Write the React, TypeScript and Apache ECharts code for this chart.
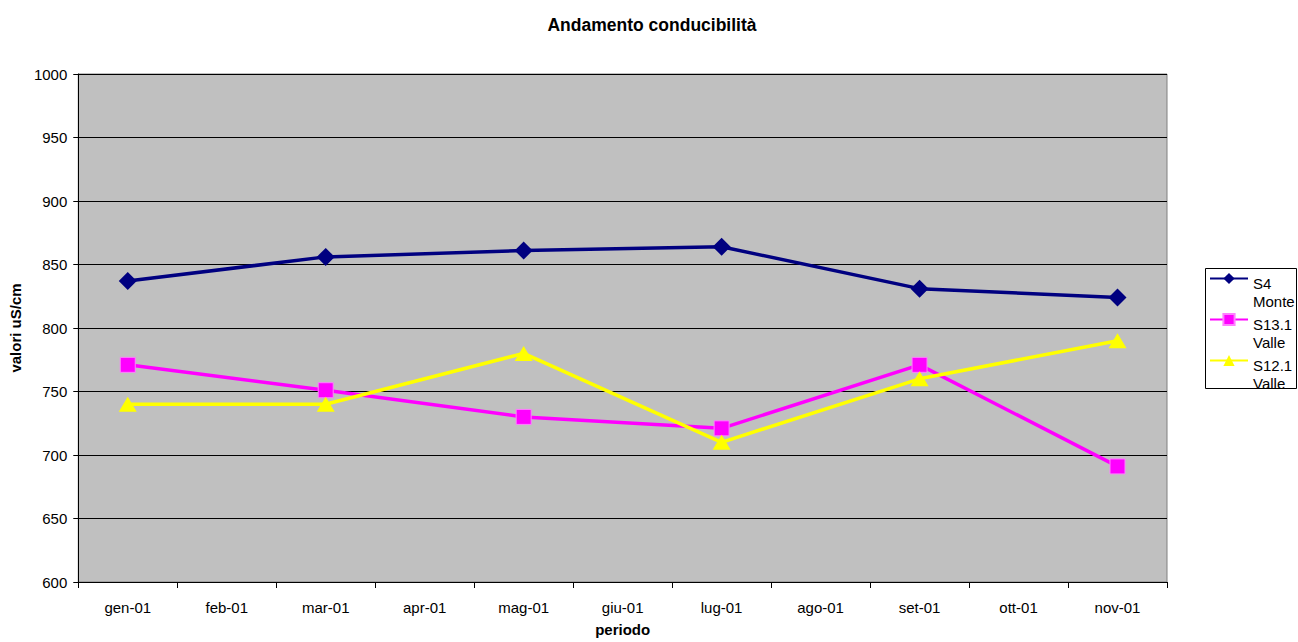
import React, { useEffect, useRef } from "react";
import * as echarts from "echarts";

const categories = ["gen-01", "feb-01", "mar-01", "apr-01", "mag-01", "giu-01", "lug-01", "ago-01", "set-01", "ott-01", "nov-01"];
const s4Monte = [837, null, 856, null, 861, null, 864, null, 831, null, 824];
const s13Valle = [771, null, 751, null, 730, null, 721, null, 771, null, 691];
const s12Valle = [740, null, 740, null, 780, null, 710, null, 760, null, 790];
const seriesNames = ["S4 Monte", "S13.1 Valle", "S12.1 Valle"];

const FONT = "'Liberation Sans', Arial, sans-serif";

export default function App() {
  const ref = useRef<HTMLDivElement>(null);
  useEffect(() => {
    document.body.style.margin = "0";
    const chart = echarts.init(ref.current!, null, { renderer: "svg" });
    const mk = (name: string, data: (number | null)[], color: string, symbol: string, size: any, border?: string) => ({
      name,
      type: "line",
      data,
      connectNulls: true,
      symbol,
      symbolSize: size,
      showAllSymbol: true,
      lineStyle: { color, width: 3.5 },
      itemStyle: { color, borderColor: border || color, borderWidth: border ? 1 : 0 },
      emphasis: { disabled: true },
    });
    chart.setOption({
      animation: false,
      textStyle: { fontFamily: FONT },
      title: {
        text: "Andamento conducibilità",
        left: 647,
        textAlign: "center",
        top: 11,
        textStyle: { fontFamily: FONT, fontSize: 17.5, fontWeight: "bold", color: "#000" },
      },
      grid: {
        left: 78,
        top: 74,
        right: 131,
        bottom: 59,
        show: true,
        backgroundColor: "#c0c0c0",
        borderColor: "#808080",
        borderWidth: 1,
      },
      graphic: [
        {
          type: "rect",
          left: 1205,
          top: 268,
          shape: { width: 91, height: 120 },
          style: { fill: "#fff", stroke: "#000", lineWidth: 1 },
          z: 0,
        },
      ],
      legend: {
        orient: "vertical",
        left: 1209,
        top: 260,
        itemWidth: 38,
        itemHeight: 14,
        itemGap: -8,
        padding: 0,
        formatter: (n: string) => {
          const [a, b] = n.split(" ");
          return `{sp| }\n{t|${a}}\n{t|${b}}`;
        },
        textStyle: {
          fontFamily: FONT,
          fontSize: 15,
          color: "#000",
          rich: {
            sp: { fontSize: 1, lineHeight: 28 },
            t: { fontFamily: FONT, fontSize: 15, lineHeight: 18, color: "#000" },
          },
        },
        data: seriesNames,
        z: 10,
      },
      xAxis: {
        type: "category",
        data: categories,
        boundaryGap: true,
        name: "periodo",
        nameLocation: "middle",
        nameGap: 40,
        nameTextStyle: { fontFamily: FONT, fontSize: 15, fontWeight: "bold", color: "#000" },
        axisLine: { lineStyle: { color: "#000", width: 1 } },
        axisTick: { show: true, length: 6, inside: false, lineStyle: { color: "#000" } },
        axisLabel: { fontFamily: FONT, fontSize: 15, color: "#000", margin: 18, interval: 0 },
        splitLine: { show: false },
      },
      yAxis: {
        type: "value",
        min: 600,
        max: 1000,
        interval: 50,
        name: "valori uS/cm",
        nameLocation: "middle",
        nameGap: 48,
        nameRotate: 90,
        nameTextStyle: { fontFamily: FONT, fontSize: 15, fontWeight: "bold", color: "#000" },
        axisLine: { show: true, lineStyle: { color: "#000", width: 1 } },
        axisTick: { show: true, length: 5, lineStyle: { color: "#000" } },
        axisLabel: { fontFamily: FONT, fontSize: 15, color: "#000", margin: 11, formatter: (v: number) => String(v) },
        splitLine: { show: true, lineStyle: { color: "#000", width: 1 } },
      },
      series: [
        mk(seriesNames[0], s4Monte, "#000080", "diamond", 18),
        mk(seriesNames[1], s13Valle, "#ff00ff", "rect", 15, "#ff80ff"),
        mk(seriesNames[2], s12Valle, "#ffff00", "triangle", [18, 15]),
      ],
    });
    return () => chart.dispose();
  }, []);
  return <div ref={ref} style={{ width: 1298, height: 642 }} />;
}
